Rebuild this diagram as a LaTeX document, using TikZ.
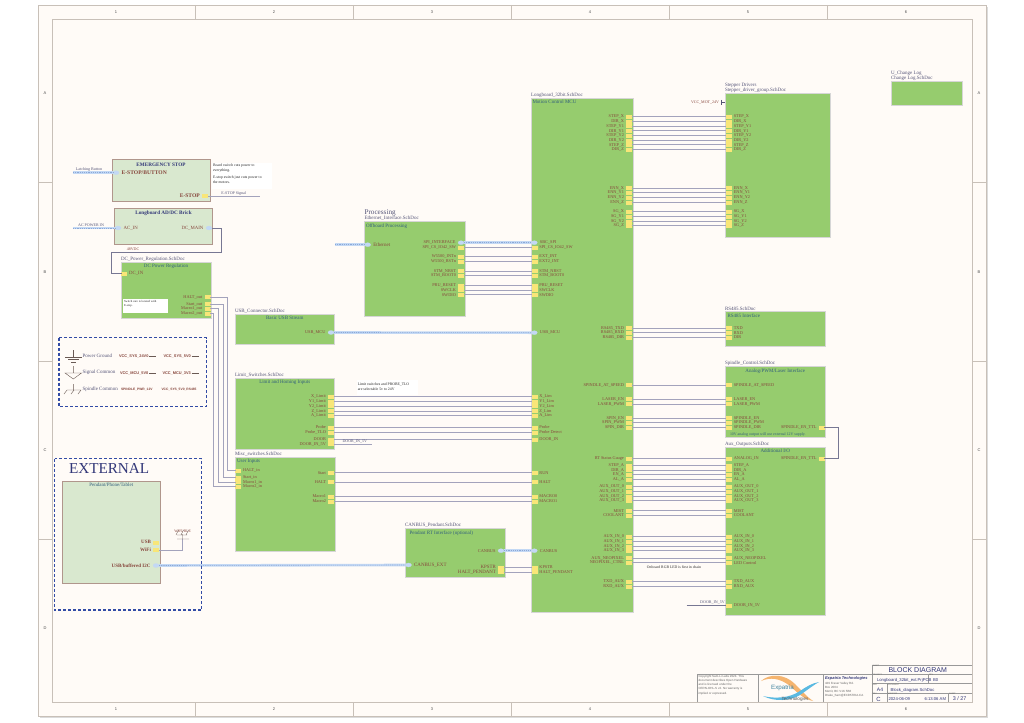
\documentclass[tikz,border=0pt]{standalone}
\usepackage{fontspec}
\setmainfont{Liberation Serif}
\setsansfont{Liberation Sans}
\usepackage{xcolor}
\usepackage{tikz}
\usetikzlibrary{shapes.geometric, positioning}
\definecolor{sheetgreen}{RGB}{150,204,110}
\definecolor{palegreen}{RGB}{217,232,207}
\definecolor{redline}{RGB}{176,150,140}
\definecolor{pinyellow}{RGB}{248,230,120}
\definecolor{pinred}{RGB}{135,70,60}
\definecolor{titleblue}{RGB}{50,95,125}
\definecolor{filenavy}{RGB}{85,85,120}
\definecolor{wirecol}{RGB}{163,163,188}
\definecolor{buslight}{RGB}{195,216,244}
\definecolor{busdark}{RGB}{140,168,215}
\definecolor{dashblue}{RGB}{50,75,165}
\definecolor{paper}{RGB}{255,251,247}
\definecolor{framecol}{RGB}{200,192,184}
\definecolor{blockblue}{RGB}{50,55,120}
\definecolor{swooshorange}{RGB}{245,180,110}
\definecolor{swooshblue}{RGB}{90,185,225}

\begin{document}
\begin{tikzpicture}[
    x=1pt, y=-1pt,
    every node/.style={inner sep=0pt, outer sep=0pt},
    sheet/.style={rectangle, draw=black!16, line width=0.6pt, fill=sheetgreen, anchor=north west},
    extsheet/.style={rectangle, draw=redline, line width=0.7pt, fill=palegreen, anchor=north west},
    filetxt/.style={font=\fontsize{5}{5.4}\selectfont, text=filenavy},
    sheettitle/.style={font=\fontsize{5}{5.4}\selectfont, text=titleblue},
    pin/.style={rectangle, draw=pinyellow, line width=0.2pt, fill=pinyellow, minimum width=5pt, minimum height=3pt},
    port/.style={ellipse, draw=buslight, line width=0.2pt, fill=buslight, minimum width=6pt, minimum height=4pt},
    pinlab/.style={font=\fontsize{4.3}{4.5}\selectfont, text=pinred},
    biglab/.style={font=\fontsize{5.6}{6}\selectfont\bfseries, text=pinred},
    netlab/.style={font=\fontsize{4}{4.4}\selectfont, text=filenavy},
    notetxt/.style={font=\fontsize{3.8}{5}\selectfont, text=black!85, align=left},
    wire/.style={draw=wirecol, line width=1pt},
    bus/.style={draw=buslight, line width=2.6pt, postaction={draw=busdark, line width=0.6pt, dash pattern=on 1.2pt off 1pt}},
    dashbox/.style={draw=dashblue, line width=1.2pt, dash pattern=on 3pt off 2pt},
    gndline/.style={draw=redline!60!black, line width=0.4pt},
    blockline/.style={draw=black!40, line width=0.35pt},
    tiny/.style={font=\fontsize{2}{2.4}\selectfont\sffamily, text=black!60, anchor=north west},
    blocktxt/.style={font=\fontsize{4.2}{4.6}\selectfont\sffamily, text=blockblue},
    label distance=2.6pt
]
\useasboundingbox (0,0) rectangle (1024,722);

% drawing frame
\fill[black!14] (40,7) rectangle (988,718);
\draw[framecol, line width=0.7pt, fill=paper] (38,5) rectangle (986,716);
\draw[framecol, line width=0.7pt] (52,19) rectangle (972,702);
\foreach \px/\ztxt [count=\n] in {116/1,274/2,432/3,590/4,748/5,906/6} {
  \node[font=\fontsize{4}{4}\selectfont\sffamily, text=black!70] (top\n) at (\px,12) {\ztxt};
  \node[font=\fontsize{4}{4}\selectfont\sffamily, text=black!70] (bot\n) at (\px,709) {\ztxt};
}
\foreach \px in {195,353,511,669,827} {
  \draw[framecol, line width=0.6pt] (\px,5) -- (\px,19) (\px,702) -- (\px,716);
}
\foreach \py/\ztxt [count=\n] in {93/A,272/B,450/C,628/D} {
  \node[font=\fontsize{4}{4}\selectfont\sffamily, text=black!70] (lft\n) at (45,\py) {\ztxt};
  \node[font=\fontsize{4}{4}\selectfont\sffamily, text=black!70] (rgt\n) at (979,\py) {\ztxt};
}
\foreach \py in {182,361,539} {
  \draw[framecol, line width=0.6pt] (38,\py) -- (52,\py) (972,\py) -- (986,\py);
}

% sheets
\node[extsheet, minimum width=98pt, minimum height=42pt] (estop) at (112,159) {};
\node[extsheet, minimum width=98pt, minimum height=36pt] (brick) at (114.5,208) {};
\node[sheet, minimum width=90pt, minimum height=56.5pt] (dcreg) at (121,262) {};
\node[sheet, minimum width=99.5pt, minimum height=30pt] (usbcon) at (235,314) {};
\node[sheet, minimum width=99.5pt, minimum height=71pt] (limits) at (235,378) {};
\node[sheet, minimum width=100pt, minimum height=94pt] (misc) at (235,457) {};
\node[extsheet, minimum width=97.5pt, minimum height=102.5pt] (pendant) at (62.5,481) {};
\node[sheet, minimum width=100.5pt, minimum height=95pt] (eth) at (364.5,221) {};
\node[sheet, minimum width=100pt, minimum height=49pt] (canbus) at (405,528) {};
\node[sheet, minimum width=102pt, minimum height=514.5pt] (mcu) at (531,98) {};
\node[sheet, minimum width=105.5pt, minimum height=144.5pt] (stepper) at (725,93) {};
\node[sheet, minimum width=100.5pt, minimum height=35.5pt] (rs485) at (725,311) {};
\node[sheet, minimum width=100.5pt, minimum height=71.5pt] (spindle) at (725,366) {};
\node[sheet, minimum width=100.5pt, minimum height=168pt] (aux) at (725,447) {};
\node[sheet, minimum width=71.5pt, minimum height=24pt] (changelog) at (891,81) {};

% sheet names
\node[filetxt, above right=0.6pt and 0pt of dcreg.north west] (dcregfile) {DC\_Power\_Regulation.SchDoc};
\node[filetxt, above right=0.6pt and 0pt of usbcon.north west] (usbconfile) {USB\_Connector.SchDoc};
\node[filetxt, above right=0.6pt and 0pt of limits.north west] (limitsfile) {Limit\_Switches.SchDoc};
\node[filetxt, above right=0.6pt and 0pt of misc.north west] (miscfile) {Misc\_switches.SchDoc};
\node[filetxt, above right=0.6pt and 0pt of canbus.north west] (canbusfile) {CANBUS\_Pendant.SchDoc};
\node[filetxt, above right=0.6pt and 0pt of mcu.north west] (mcufile) {Longboard\_32bit.SchDoc};
\node[filetxt, above right=0.6pt and 0pt of rs485.north west] (rs485file) {RS485.SchDoc};
\node[filetxt, above right=0.6pt and 0pt of spindle.north west] (spindlefile) {Spindle\_Control.SchDoc};
\node[filetxt, above right=0.6pt and 0pt of aux.north west] (auxfile) {Aux\_Outputs.SchDoc};
\node[filetxt, above right=0.6pt and 0pt of eth.north west] (ethfile) {Ethernet\_Interface.SchDoc};
\node[font=\fontsize{7.2}{8}\selectfont, text=filenavy, above=0.2pt of ethfile.north west, anchor=south west] (ethgroup) {Processing};
\node[filetxt, above right=0.6pt and 0pt of stepper.north west] (stepperfile) {Stepper\_driver\_group.SchDoc};
\node[filetxt, above=0.4pt of stepperfile.north west, anchor=south west] (steppergroup) {Stepper Drivers};
\node[filetxt, above right=0.6pt and 0pt of changelog.north west] (changefile) {Change Log.SchDoc};
\node[filetxt, above=0.4pt of changefile.north west, anchor=south west] (changegroup) {U\_Change Log};

% sheet titles
\node[sheettitle, font=\fontsize{5.2}{5.6}\selectfont\bfseries, text=blockblue, below=4pt of estop.north] (estoptitle) {EMERGENCY STOP};
\node[sheettitle, font=\fontsize{5.2}{5.6}\selectfont\bfseries, text=blockblue, below=2.5pt of brick.north] (bricktitle) {Longboard AD/DC Brick};
\node[sheettitle, below=2.5pt of dcreg.north] (dcregtitle) {DC Power Regulation};
\node[sheettitle, below=2.5pt of usbcon.north] (usbcontitle) {Basic USB Stream};
\node[sheettitle, below=2.5pt of limits.north] (limitstitle) {Limit and Homing Inputs};
\node[sheettitle, below right=2.5pt and 2pt of misc.north west] (misctitle) {User Inputs};
\node[sheettitle, below=2.5pt of pendant.north] (pendanttitle) {Pendant/Phone/Tablet};
\node[sheettitle, below right=2.5pt and 1.5pt of eth.north west] (ethtitle) {Offboard Processing};
\node[sheettitle, below right=2.5pt and 4.5pt of canbus.north west] (canbustitle) {Pendant RT Interface (optional)};
\node[sheettitle, below right=2.5pt and 1.5pt of mcu.north west] (mcutitle) {Motion Control MCU};
\node[sheettitle, below right=2.5pt and 2.5pt of rs485.north west] (rs485title) {RS485 Interface};
\node[sheettitle, below=2.5pt of spindle.north] (spindletitle) {Analog/PWM/Laser Interface};
\node[sheettitle, below=2.5pt of aux.north] (auxtitle) {Additional I/O};

% motion control to stepper drivers
\foreach \py/\ltxt/\rtxt [count=\n] in {
  116.7/STEP\_X/STEP\_X, 121.4/DIR\_X/DIR\_X, 126.1/STEP\_Y1/STEP\_Y1, 130.9/DIR\_Y1/DIR\_Y1,
  135.6/STEP\_Y2/STEP\_Y2, 140.3/DIR\_Y2/DIR\_Y2, 145/STEP\_Z/STEP\_Z, 149.8/DIR\_Z/DIR\_Z,
  188/ENN\_X/ENN\_X, 192.7/ENN\_Y1/ENN\_Y1, 197.4/ENN\_Y2/ENN\_Y2, 202.1/ENN\_Z/ENN\_Z,
  211.7/SG\_X/SG\_X, 216.4/SG\_Y1/SG\_Y1, 221.1/SG\_Y2/SG\_Y2, 225.8/SG\_Z/SG\_Z} {
  \node[pin, label={[pinlab]left:\ltxt}] (ms\n) at (629,\py) {};
  \node[pin, label={[pinlab]right:\rtxt}] (st\n) at (728.7,\py) {};
  \draw[wire] (ms\n.east) -- (st\n.west);
}

% motion control to rs485, spindle and aux
\foreach \py/\ltxt/\rtxt [count=\n] in {
  328/RS485\_TXD/TXD, 332.7/RS485\_RXD/RXD, 337.3/RS485\_DIR/DIR,
  385/SPINDLE\_AT\_SPEED/SPINDLE\_AT\_SPEED, 399/LASER\_EN/LASER\_EN, 404/LASER\_PWM/LASER\_PWM,
  418/SPIN\_EN/SPINDLE\_EN, 422.7/SPIN\_PWM/SPINDLE\_PWM, 427.3/SPIN\_DIR/SPINDLE\_DIR,
  458.3/RT Status Gauge/ANALOG\_IN, 465.3/STEP\_A/STEP\_A, 470/DIR\_A/DIR\_A, 474.7/EN\_A/EN\_A, 479.4/AL\_A/AL\_A,
  486.7/AUX\_OUT\_0/AUX\_OUT\_0, 491.4/AUX\_OUT\_1/AUX\_OUT\_1, 496.1/AUX\_OUT\_2/AUX\_OUT\_2, 500.8/AUX\_OUT\_3/AUX\_OUT\_3,
  510.7/MIST/MIST, 515.4/COOLANT/COOLANT,
  536.7/AUX\_IN\_0/AUX\_IN\_0, 541.4/AUX\_IN\_1/AUX\_IN\_1, 546.1/AUX\_IN\_2/AUX\_IN\_2, 550.8/AUX\_IN\_3/AUX\_IN\_3,
  558/AUX\_NEOPIXEL/AUX\_NEOPIXEL, 562.7/NEOPIXEL\_CTRL/LED Control,
  581.7/TXD\_AUX/TXD\_AUX, 586.4/RXD\_AUX/RXD\_AUX} {
  \node[pin, label={[pinlab]left:\ltxt}] (mo\n) at (629,\py) {};
  \node[pin, label={[pinlab]right:\rtxt}] (ou\n) at (728.7,\py) {};
  \draw[wire] (mo\n.east) -- (ou\n.west);
}

% offboard processing to motion control
\foreach \py/\ltxt/\rtxt [count=\n] in {
  247.3/SPI\_CS\_IO42\_SW/SPI\_CS\_IO42\_SW, 256.7/W5500\_INTn/EXT\_INT, 261.3/W5500\_RSTn/EXT2\_INT,
  271/STM\_NRST/STM\_NRST, 275.7/STM\_BOOT0/STM\_BOOT0,
  285.3/PRU\_RESET/PRU\_RESET, 290/SWCLK/SWCLK, 294.7/SWDIO/SWDIO} {
  \node[pin, label={[pinlab]left:\ltxt}] (ep\n) at (461,\py) {};
  \node[pin, label={[pinlab]right:\rtxt}] (ml\n) at (534.3,\py) {};
  \draw[wire] (ep\n.east) -- (ml\n.west);
}
\node[port, label={[pinlab]left:SPI\_INTERFACE}] (ethspi) at (461,242.7) {};
\node[port, label={[pinlab]right:SBC\_SPI}] (mcuspi) at (534.3,242.7) {};
\draw[bus] (ethspi.east) -- (mcuspi.west);

% limit and user inputs to motion control
\foreach \py/\ltxt/\rtxt [count=\n] in {
  396.7/X\_Limit/X\_Lim, 401.3/Y1\_Limit/Y1\_Lim, 406/Y2\_Limit/Y2\_Lim, 411/Z\_Limit/Z\_Lim, 415.7/A\_Limit/A\_Lim,
  427.3/Probe/Probe, 432.3/Probe\_TLO/Probe Detect, 439.3/DOOR/DOOR\_IN,
  472.7/Start/RUN, 482/HALT/HALT, 496.3/Macro1/MACRO0, 501.3/Macro2/MACRO1} {
  \node[pin, label={[pinlab]left:\ltxt}] (li\n) at (331,\py) {};
  \node[pin, label={[pinlab]right:\rtxt}] (mi\n) at (534.3,\py) {};
  \draw[wire] (li\n.east) -- (mi\n.west);
}
\node[pin, label={[pinlab]left:DOOR\_IN\_5V}] (doorout) at (331,444) {};
\coordinate (doorend) at (372,444);
\draw[wire] (doorout.east) -- node[netlab, above=0.8pt, xshift=2pt] (doorlab) {DOOR\_IN\_5V} (doorend);

% usb and ethernet
\node[port, label={[pinlab]left:USB\_MCU}] (usbport) at (331,332.5) {};
\node[port, label={[pinlab]right:USB\_MCU}] (mcuusb) at (534.3,332.7) {};
\draw[bus] (usbport.east) -- (mcuusb.west);
\node[port, label={[pinlab, font=\fontsize{5}{5}\selectfont]right:Ethernet}] (ethport) at (367.7,244.7) {};
\coordinate (ethend) at (335,244.7);
\draw[bus] (ethend) -- (ethport.west);

% canbus pendant
\node[port, label={[pinlab]left:CANBUS}] (canport) at (501,550.7) {};
\node[port, label={[pinlab]right:CANBUS}] (mcucan) at (534.3,550.7) {};
\draw[bus] (canport.east) -- (mcucan.west);
\foreach \py/\ltxt/\rtxt [count=\n] in {567.3/KPSTR/KPSTR, 572/HALT\_PENDANT/HALT\_PENDANT} {
  \node[pin, label={[pinlab, font=\fontsize{4.9}{5}\selectfont]left:\ltxt}] (cb\n) at (501,\py) {};
  \node[pin, label={[pinlab]right:\rtxt}] (mk\n) at (534.3,\py) {};
  \draw[wire] (cb\n.east) -- (mk\n.west);
}
\node[port, label={[pinlab, font=\fontsize{5}{5}\selectfont]right:CANBUS\_EXT}] (extport) at (408.5,565) {};

% external pendant
\node[port, label={[biglab, font=\fontsize{5}{5}\selectfont\bfseries]left:USB/buffered I2C}] (i2cport) at (156,565.5) {};
\draw[bus] (i2cport.east) -- (extport.west);
\node[pin, label={[biglab, font=\fontsize{5}{5}\selectfont\bfseries]left:USB}] (pendusb) at (156,542.3) {};
\node[pin, label={[biglab, font=\fontsize{5}{5}\selectfont\bfseries]left:WiFi}] (pendwifi) at (156,550) {};
\coordinate (wifitop) at (182.5,539);
\draw[wire] (pendwifi.east) -| (wifitop);
\draw[gndline] (177,539) -- (189,539) (182.5,539) -- (182.5,534) (176,535) -- (178.5,530) (181,535) -- (183.5,530) (186,535) -- (188.5,530) (177,535) -- (187,535);
\node[netlab, text=pinred, font=\fontsize{3.8}{4}\selectfont] (wifilab) at (182.7,531.5) {WIFI/BLE};
\draw[dashbox] (54.5,458.5) rectangle (201.5,610);
\node[font=\fontsize{15.2}{16}\selectfont, text=blockblue, anchor=west] (externaltxt) at (69,468.5) {EXTERNAL};

% estop and brick
\node[port, label={[biglab]right:E-STOP/BUTTON}] (estopin) at (116,172.7) {};
\coordinate (latchend) at (73,172.7);
\draw[bus] (latchend) -- node[netlab, above=1pt, xshift=-4pt] (latchlab) {Latching Button} (estopin.west);
\node[pin, label={[biglab]left:E-STOP}] (estopout) at (205,196) {};
\coordinate (estopend) at (260,196);
\draw[wire] (estopout.east) -- node[netlab, above=0.8pt] (estoplab) {E-STOP Signal} (estopend);
\node[fill=white, minimum width=60pt, minimum height=26pt, anchor=north west] (estopnote) at (212,163) {};
\node[notetxt, anchor=north west] (estopnotetxt) at (213,164) {Board switch cuts power to\\everything.\\[1.5pt]E-stop switch just cuts power to\\the motors.};
\node[port, label={[biglab, font=\fontsize{4.8}{5}\selectfont]right:AC\_IN}] (acin) at (118,228) {};
\coordinate (acend) at (73,228);
\draw[bus] (acend) -- node[netlab, above=1pt, xshift=-3pt] (aclab) {AC POWER IN} (acin.west);
\node[port, label={[biglab, font=\fontsize{4.8}{5}\selectfont]left:DC\_MAIN}] (dcmain) at (209,228) {};
\node[pin, label={[pinlab, font=\fontsize{4.8}{5}\selectfont]right:DC\_IN}] (dcin) at (124,273.3) {};
\draw[wire, draw=filenavy!80] (dcmain.east) -- ++(9,0) |- ++(-109.5,24) |- (dcin.west);
\node[netlab, text=pinred] (dclab) at (133,249) {48VDC};

% power regulation outputs
\node[fill=white, minimum width=45pt, minimum height=14pt, anchor=north west] (regnote) at (123.3,299.3) {};
\node[notetxt, font=\fontsize{3}{3.8}\selectfont, anchor=north west] (regnotetxt) at (124,300.5) {Switch care is located with\\E-stop.};
\foreach \py/\ttxt/\bus/\iny [count=\n] in {
  297/HALT\_out/227.7/470.3, 304/Start\_out/223.3/477.3, 308.7/Macro1\_out/218.3/482, 313.3/Macro2\_out/213.3/486.7} {
  \node[pin, label={[pinlab]left:\ttxt}] (reg\n) at (207.3,\py) {};
  \coordinate (turn\n) at (\bus,\iny);
}
\foreach \py/\ttxt [count=\n] in {470.3/HALT\_in, 477.3/Start\_in, 482/Macro1\_in, 486.7/Macro2\_in} {
  \node[pin, label={[pinlab]right:\ttxt}] (usr\n) at (238,\py) {};
  \draw[wire] (reg\n.east) -| (turn\n) -- (usr\n.west);
}

% power net legend
\draw[dashbox] (59,337.5) rectangle (206.5,406.5);
\draw[gndline] (73.3,350) -- (73.3,357) (65,357) -- (81.5,357) (68,359.5) -- (78.5,359.5) (71,362) -- (75.5,362);
\draw[gndline] (73.3,366) -- (73.3,373) (65,373) -- (81.5,373) -- (73.3,379) -- cycle;
\draw[gndline] (73.3,384) -- (73.3,390) (67,390) -- (81,390) (67,390) -- (64,394) (74,390) -- (71,394) (81,390) -- (78,394);
\node[filetxt, anchor=west] (pwrgnd) at (82.7,356) {Power Ground};
\node[filetxt, anchor=west] (siggnd) at (82.7,372.5) {Signal Common};
\node[filetxt, anchor=west] (spingnd) at (82.7,389.5) {Spindle Common};
\foreach \px/\py/\ttxt [count=\n] in {
  119/356.3/VCC\_SYS\_24V0, 163.5/356.3/VCC\_SYS\_5V0, 120/373/VCC\_MCU\_5V0, 162.5/373/VCC\_MCU\_3V3} {
  \node[font=\fontsize{3.9}{4}\selectfont\sffamily\bfseries, text=pinred, anchor=west] (rail\n) at (\px,\py) {\ttxt};
  \draw[gndline] ([xshift=0.8pt]rail\n.east) -- ++(7,0);
}
\node[font=\fontsize{3.3}{4}\selectfont\sffamily\bfseries, text=pinred, anchor=west] (railspin) at (121,389.5) {SPINDLE\_PWR\_12V};
\node[font=\fontsize{3.3}{4}\selectfont\sffamily\bfseries, text=pinred, anchor=west] (railrs) at (161.5,389.5) {VCC\_SYS\_5V0\_RS485};

% limit note
\node[fill=white, minimum width=61pt, minimum height=15pt, anchor=north west] (limitnote) at (357,380) {};
\node[notetxt, anchor=north west] (limitnotetxt) at (357.8,382.5) {Limit switches and PROBE\_TLO\\are selectable 5v to 24V};
\node[notetxt] (rgbnote) at (674,567.5) {Onboard RGB LED is first in chain};

% stepper supply
\coordinate (motbar) at (721.5,102.5);
\draw[wire, draw=filenavy] (motbar) -- (stepper.west |- motbar);
\draw[wire, draw=filenavy, line width=0.4pt] (721.5,100) -- (721.5,105);
\node[netlab, anchor=east, text=pinred] (motlab) at (719,102.5) {VCC\_MOT\_24V};

% spindle enable link
\node[pin, label={[pinlab]left:SPINDLE\_EN\_TTL}] (spinttl) at (821.7,427.3) {};
\node[pin, label={[pinlab]left:SPINDLE\_EN\_TTL}] (auxttl) at (821.7,458.3) {};
\draw[wire, draw=filenavy!80] (spinttl.east) -- ++(14.5,0) |- (auxttl.east);
\node[sheettitle, font=\fontsize{3.9}{4}\selectfont, anchor=west] (spinnote) at (730,435) {10V analog output will use external 12V supply.};

% door input on aux
\node[pin, label={[pinlab]right:DOOR\_IN\_5V}] (auxdoor) at (728.7,605.3) {};
\coordinate (auxdoorend) at (686.7,605.3);
\draw[wire, draw=filenavy!80] (auxdoorend) -- node[netlab, above=0.8pt, xshift=6pt] (auxdoorlab) {DOOR\_IN\_5V} (auxdoor.west);

% title block
\draw[blockline] (696.7,702) -- (696.7,674) -- (871.7,674) (758.3,674) -- (758.3,702) (823.3,674) -- (823.3,702);
\draw[blockline] (871.7,702) -- (871.7,664.7) -- (972,664.7);
\draw[blockline] (871.7,674) -- (972,674) (871.7,683.3) -- (972,683.3) (871.7,693) -- (972,693);
\draw[blockline] (928,674) -- (928,683.3) (886.7,683.3) -- (886.7,702) (948,693) -- (948,702);
\node[font=\fontsize{7}{7}\selectfont\sffamily, text=blockblue] (blocktitle) at (917.7,669.8) {BLOCK DIAGRAM};
\node[tiny] (capsheet) at (872.5,665.3) {SHEET};
\node[tiny] (capproj) at (872.5,674.4) {PROJECT};
\node[tiny] (caprev) at (929,674.4) {REV};
\node[tiny] (capsize) at (872.5,683.7) {SIZE};
\node[tiny] (capdoc) at (887.5,683.7) {DOCUMENT};
\node[tiny] (caprev2) at (872.5,693.4) {REV};
\node[tiny] (capmod) at (887.5,693.4) {MODIFIED};
\node[tiny] (capno) at (949,693.4) {SHEET};
\node[blocktxt, anchor=west] (blockproj) at (877,680) {Longboard\_32bit\_ext.PrjPCB};
\node[blocktxt, anchor=west] (blockver) at (933,680) {B0};
\node[blocktxt, font=\fontsize{5}{5}\selectfont\sffamily] (blocksize) at (880,690) {A4};
\node[blocktxt, anchor=west] (blockdoc) at (890.7,690) {Block\_diagram.SchDoc};
\node[blocktxt, font=\fontsize{6}{6}\selectfont\sffamily] (blockrev) at (878.5,699) {C};
\node[blocktxt, anchor=west] (blockdate) at (888.5,699.3) {2024-06-09};
\node[blocktxt, anchor=east] (blocktime) at (946,699.3) {6:13:06 AM};
\node[blocktxt, font=\fontsize{5.4}{6}\selectfont\sffamily] (blocksheet) at (959.5,699) {3 / 27};
\node[font=\fontsize{3}{4.1}\selectfont\sffamily, text=black!60, align=left, anchor=north west] (copytxt) at (698.5,675.5) {Copyright Sam-Li Labs 2024. This\\document describes Open Hardware\\and is licensed under the\\CERN-OHL-S v2. No warranty is\\implied or expressed.};
\node[font=\fontsize{4}{4.4}\selectfont\sffamily\bfseries\itshape, text=blockblue, anchor=west] (compname) at (825,678) {Expatria Technologies};
\node[font=\fontsize{3}{4.2}\selectfont\sffamily, text=black!60, align=left, anchor=north west] (compaddr) at (825,682) {429 Fraser Valley Rd.\\Box 2004\\Merrit, BC V1K 5B6\\Drake\_Sam@EXPATRIA.CA};

% logo
\fill[swooshorange] (761,681) .. controls (770,673) and (785,674) .. (795,684) .. controls (802,691) and (807,697) .. (813,701) .. controls (803,699) and (797,692) .. (790,686) .. controls (780,678) and (770,677) .. (761,681) -- cycle;
\fill[swooshblue] (763,696) .. controls (775,699) and (790,698) .. (800,691) .. controls (806,687) and (812,683) .. (819,682) .. controls (812,686) and (806,691) .. (800,695) .. controls (790,701) and (775,702) .. (763,696) -- cycle;
\node[font=\fontsize{6.2}{6.4}\selectfont\sffamily, text=swooshblue!70!black] (logotxt) at (782.5,688) {Expatria};
\node[font=\fontsize{4.6}{5}\selectfont\sffamily, text=black!65] (logosub) at (795,699.5) {Technologies};

\end{tikzpicture}
\end{document}
